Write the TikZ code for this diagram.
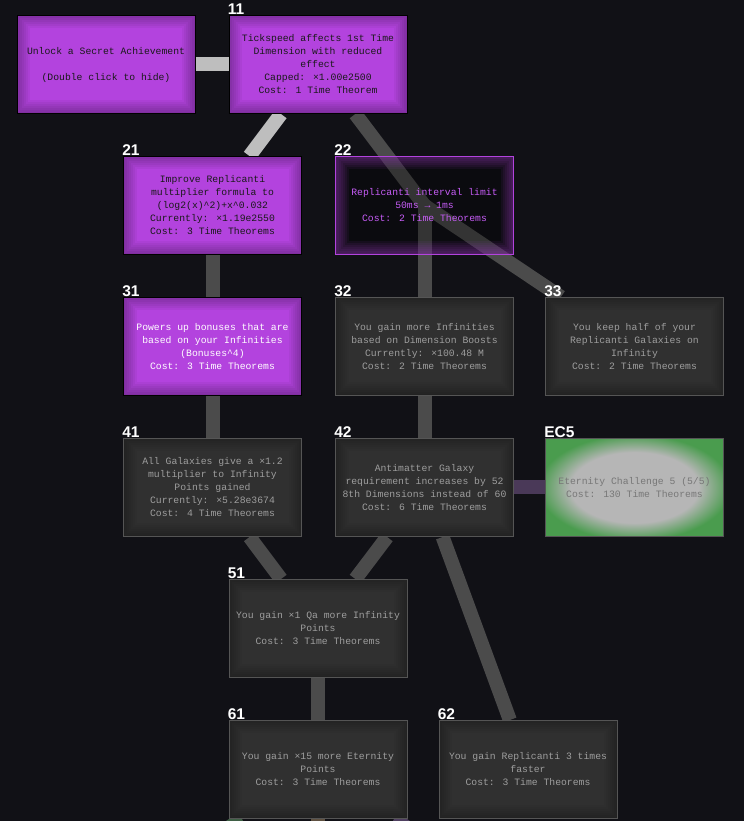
\documentclass[tikz,border=0pt]{standalone}
\usepackage{fontspec}
\setmainfont{Liberation Sans}
\newfontfamily\monofont{Liberation Mono}
\usetikzlibrary{positioning, backgrounds}

\definecolor{bgdark}{HTML}{111116}
\definecolor{studypurple}{HTML}{B343DE}
\definecolor{studygrey}{HTML}{303030}
\definecolor{studyedge}{HTML}{555555}
\definecolor{studytext}{HTML}{9E9E9E}
\definecolor{textpurple}{HTML}{C65CF6}
\definecolor{linebought}{HTML}{BEBEBE}
\definecolor{lineopen}{HTML}{4B4B4B}
\definecolor{lineec}{HTML}{4A3958}
\definecolor{linegreen}{HTML}{3F5F45}
\definecolor{linetan}{HTML}{5F5141}
\definecolor{linepurple}{HTML}{4F3F60}
\definecolor{ecgreen}{HTML}{4A9C4E}
\definecolor{ecgrey}{HTML}{B6B6B6}
\definecolor{ectext}{HTML}{777777}

\pgfdeclareradialshading{ecglow}{\pgfpoint{0bp}{0bp}}{color(0bp)=(ecgrey); color(18bp)=(ecgrey); color(27bp)=(ecgreen); color(50bp)=(ecgreen)}

% soft inner shadow along the edge of a study box
\newcommand{\insetglow}[2]{%
    \foreach \w in {26,22,...,2}
        \draw[#1, opacity=#2, line width=\w pt] (path picture bounding box.south west) rectangle (path picture bounding box.north east);}

\begin{document}
\begin{tikzpicture}[ % study tree
        x=1pt, y=1pt,
        node distance=42pt and 33pt, % row gap and column gap
        every node/.style={align=center, font=\monofont\fontsize{9.75}{13}\selectfont},
        study/.style={rectangle, minimum width=178pt, minimum height=98pt, inner sep=0pt},
        bought/.style={study, draw=black, line width=1pt, fill=studypurple, text=black!90,
            path picture={\insetglow{black}{.045}}},
        affordable/.style={study, draw=studypurple, line width=1pt, fill=black, fill opacity=.3, text opacity=1, text=textpurple,
            path picture={\insetglow{studypurple}{.07}}},
        locked/.style={study, draw=studyedge, line width=1pt, fill=studygrey, text=studytext,
            path picture={\insetglow{black}{.035}}},
        challenge/.style={study, draw=studyedge, line width=1pt, shading=ecglow, text=ectext},
        numlabel/.style={font=\bfseries\fontsize{15.5}{16}\selectfont, text=white, inner sep=0pt, anchor=south west},
        link/.style={line width=14pt}
    ]
    \useasboundingbox (0,0) rectangle (744,821);
    \clip (0,0) rectangle (744,821);
    % --- studies ---
    \node (s11) [bought, label={[numlabel, label distance=1pt]north west:11}] at (318,756.5) {Tickspeed affects 1st Time\\Dimension with reduced\\effect\\Capped: ×1.00e2500\\Cost: 1 Time Theorem};
    \node (secret) [bought, left=of s11] {Unlock a Secret Achievement\\\strut\\(Double click to hide)};
    \node (s21) [bought, below=of s11, xshift=-105.5pt, label={[numlabel, label distance=1pt]north west:21}] {Improve Replicanti\\multiplier formula to\\(log2(x)\textasciicircum 2)+x\textasciicircum 0.032\\Currently: ×1.19e2550\\Cost: 3 Time Theorems};
    \node (s22) [affordable, right=of s21, label={[numlabel, label distance=1pt]north west:22}] {Replicanti interval limit\\50ms → 1ms\\Cost: 2 Time Theorems};
    \node (s31) [bought, below=of s21, text=white, label={[numlabel, label distance=1pt]north west:31}] {Powers up bonuses that are\\based on your Infinities\\(Bonuses\textasciicircum 4)\\Cost: 3 Time Theorems};
    \node (s32) [locked, below=of s22, label={[numlabel, label distance=1pt]north west:32}] {You gain more Infinities\\based on Dimension Boosts\\Currently: ×100.48 M\\Cost: 2 Time Theorems};
    \node (s33) [locked, right=31pt of s32, label={[numlabel, label distance=1pt]north west:33}] {You keep half of your\\Replicanti Galaxies on\\Infinity\\Cost: 2 Time Theorems};
    \node (s41) [locked, below=of s31, label={[numlabel, label distance=1pt]north west:41}] {All Galaxies give a ×1.2\\multiplier to Infinity\\Points gained\\Currently: ×5.28e3674\\Cost: 4 Time Theorems};
    \node (s42) [locked, below=of s32, label={[numlabel, label distance=1pt]north west:42}] {Antimatter Galaxy\\requirement increases by 52\\8th Dimensions instead of 60\\Cost: 6 Time Theorems};
    \node (ec5) [challenge, below=of s33, label={[numlabel, label distance=1pt]north west:EC5}] {Eternity Challenge 5 (5/5)\\Cost: 130 Time Theorems};
    \node (s51) [locked, below=of s41, xshift=105.5pt, label={[numlabel, label distance=1pt]north west:51}] {You gain ×1 Qa more Infinity\\Points\\Cost: 3 Time Theorems};
    \node (s61) [locked, below=of s51, label={[numlabel, label distance=1pt]north west:61}] {You gain ×15 more Eternity\\Points\\Cost: 3 Time Theorems};
    \node (s62) [locked, right=31pt of s61, label={[numlabel, label distance=1pt]north west:62}] {You gain Replicanti 3 times\\faster\\Cost: 3 Time Theorems};
    % studies below the visible part
    \coordinate (s71) at (111,-83);
    \coordinate (s72) at (318,-83);
    \coordinate (s73) at (525,-83);
    % --- canvas and connections ---
    \begin{scope}[on background layer]
        \fill[bgdark] (0,0) rectangle (744,821);
        \draw[link, linebought] (secret) -- (s11);
        \draw[link, linebought] (s11) -- (s21);
        \draw[link, lineopen] (s11) -- (s22.center);
        \draw[link, lineopen] (s22.center) -- (s33);
        \draw[link, lineopen] (s22.center) -- (s32);
        \draw[link, lineopen] (s21) -- (s31);
        \draw[link, lineopen] (s31) -- (s41);
        \draw[link, lineopen] (s32) -- (s42);
        \draw[link, lineec] (s42) -- (ec5);
        \draw[link, lineopen] (s41) -- (s51);
        \draw[link, lineopen] (s42) -- (s51);
        \draw[link, lineopen] (s42) -- (s62);
        \draw[link, lineopen] (s51) -- (s61);
        \draw[link, linegreen] (s61) -- (s71);
        \draw[link, linetan] (s61) -- (s72);
        \draw[link, linepurple] (s61) -- (s73);
    \end{scope}
    \end{tikzpicture}
\end{document}
